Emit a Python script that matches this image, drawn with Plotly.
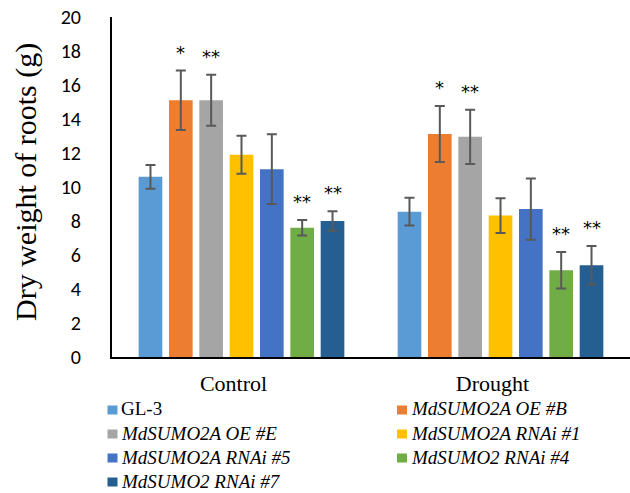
import plotly.graph_objects as go

categories = ["Control", "Drought"]
series_names = [
    "GL-3",
    "<i>MdSUMO2A OE #B</i>",
    "<i>MdSUMO2A OE #E</i>",
    "<i>MdSUMO2A RNAi #1</i>",
    "<i>MdSUMO2A RNAi #5</i>",
    "<i>MdSUMO2 RNAi #4</i>",
    "<i>MdSUMO2 RNAi #7</i>",
]
colors = ["#5B9BD5", "#ED7D31", "#A5A5A5", "#FFC000", "#4472C4", "#70AD47", "#255E91"]

values = [
    [10.6, 8.55],
    [15.1, 13.12],
    [15.1, 12.95],
    [11.9, 8.32],
    [11.05, 8.7],
    [7.6, 5.1],
    [8.0, 5.4],
]
errors = [
    [0.7, 0.82],
    [1.75, 1.65],
    [1.5, 1.6],
    [1.12, 1.02],
    [2.05, 1.8],
    [0.46, 1.07],
    [0.58, 1.13],
]
signif = [
    ["", ""],
    ["*", "*"],
    ["**", "**"],
    ["", ""],
    ["", ""],
    ["**", "**"],
    ["**", "**"],
]

bargap = 0.18
bargroupgap = 0.22

# plot-area geometry (px) used to place the hand-made legend
W, H = 630, 493
ML, MR, MT, MB = 112, 0, 17, 136
PW, PH = W - ML - MR, H - MT - MB


def px_x(p):
    return (p - ML) / PW


def px_y(p):
    return (H - MB - p) / PH


fig = go.Figure()
for name, col, v, e in zip(series_names, colors, values, errors):
    fig.add_trace(go.Bar(
        x=categories, y=v, name=name, showlegend=False,
        marker=dict(color=col, line=dict(width=0)),
        error_y=dict(type="data", array=e, visible=True, color="#595959", thickness=2, width=5),
    ))

n = len(series_names)
annotations = []
shapes = []
for j in range(n):
    for i in range(len(categories)):
        s = signif[j][i]
        if not s:
            continue
        xc = i - (1 - bargap) / 2 + (j + 0.5) * (1 - bargap) / n
        annotations.append(dict(
            x=xc, y=values[j][i] + errors[j][i], xref="x", yref="y",
            text=s, showarrow=False, yanchor="bottom", yshift=6,
            font=dict(family="DejaVu Sans", size=18, color="black"),
        ))

annotations.append(dict(
    text="Dry weight of roots (g)", xref="paper", yref="paper",
    x=px_x(26), y=px_y(182), xanchor="center", yanchor="middle",
    textangle=-90, showarrow=False,
    font=dict(family="Liberation Serif, Times New Roman", size=30, color="black"),
))

# legend: two columns, row-major order
col_sq = [107.5, 397]
col_tx = [119, 409]
row_c = [410, 434, 458, 482]
for k, (name, col) in enumerate(zip(series_names, colors)):
    r, c = divmod(k, 2)
    yc = row_c[r]
    shapes.append(dict(
        type="rect", xref="paper", yref="paper",
        x0=px_x(col_sq[c]), x1=px_x(col_sq[c] + 10),
        y0=px_y(yc - 4.5), y1=px_y(yc + 4.5),
        fillcolor=col, line=dict(width=0),
    ))
    annotations.append(dict(
        text=name, xref="paper", yref="paper",
        x=px_x(col_tx[c]), y=px_y(yc - 1), xanchor="left", yanchor="middle",
        showarrow=False,
        font=dict(family="Liberation Serif, Times New Roman", size=19, color="black"),
    ))

fig.update_layout(
    width=W, height=H,
    margin=dict(l=ML, r=MR, t=MT, b=MB, autoexpand=False),
    paper_bgcolor="white", plot_bgcolor="white",
    barmode="group", bargap=bargap, bargroupgap=bargroupgap,
    annotations=annotations, shapes=shapes,
    showlegend=False,
    xaxis=dict(
        type="category", showline=True, linecolor="black", linewidth=2,
        ticks="", ticklabelstandoff=6, ticklabelshift=-8, showgrid=False,
        tickfont=dict(family="Liberation Serif, Times New Roman", size=22, color="black"),
    ),
    yaxis=dict(
        range=[0, 20], dtick=2, showline=True, linecolor="black", linewidth=2,
        ticks="", ticklabelstandoff=25, showgrid=False, zeroline=False,
        tickfont=dict(family="Carlito, Liberation Sans Narrow, Lato", size=20, color="black"),
    ),
)

fig.write_html("out.html")
